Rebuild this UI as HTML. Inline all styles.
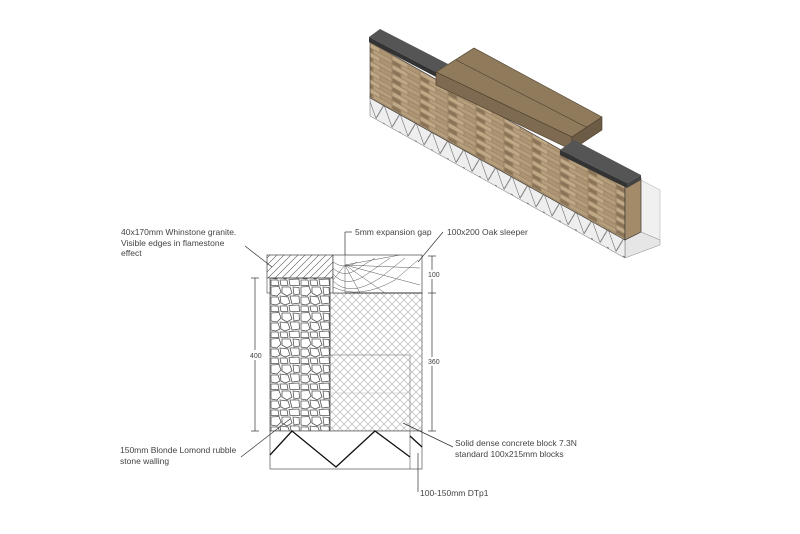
<!DOCTYPE html>
<html><head><meta charset="utf-8"><style>
html,body{margin:0;padding:0;background:#fff;}
svg{display:block;}
text{font-family:"Liberation Sans",sans-serif;font-size:8.5px;fill:#444;}
</style></head><body>
<svg width="800" height="534" viewBox="0 0 800 534" xmlns="http://www.w3.org/2000/svg">
<defs>
<pattern id="xh" width="8" height="8" patternUnits="userSpaceOnUse">
<path d="M0 0L8 8M8 0L0 8" stroke="#aaa" stroke-width="0.6"/>
</pattern>
<pattern id="dh" width="7" height="7" patternUnits="userSpaceOnUse">
<path d="M0 7L7 0M-2 2L2 -2M5 9L9 5" stroke="#555" stroke-width="0.6"/>
</pattern>
<pattern id="rub" width="30" height="26" patternUnits="userSpaceOnUse">
<g fill="#fff" stroke="#555" stroke-width="0.8">
<path d="M1 1L9 0.5L11 6L7 10L1 9Z"/>
<path d="M12 1L20 1L22 7L17 10L12 7Z"/>
<path d="M23 1L29 1.5L29.5 8L24 9Z"/>
<path d="M1 11L8 11L10 17L6 19L1 18Z"/>
<path d="M10 10L18 11L20 17L15 19L11 17Z"/>
<path d="M20 10L29 10L29.5 17L22 18Z"/>
<path d="M1 20L8 20L9 25.5L1 25.5Z"/>
<path d="M10 20L17 20L18 25.5L11 25.5Z"/>
<path d="M19 19.5L29 19L29.5 25.5L20 25.5Z"/>
</g>
</pattern>
<pattern id="wall" width="28" height="9" patternUnits="userSpaceOnUse" patternTransform="skewY(29)">
<rect width="28" height="9" fill="#9d8566"/>
<rect x="0.5" y="0.5" width="15" height="3.6" fill="#c0a986"/>
<rect x="16.5" y="0.5" width="11" height="3.6" fill="#ad9574"/>
<rect x="0.5" y="5" width="8" height="3.4" fill="#8a7458"/>
<rect x="9.5" y="5" width="18" height="3.4" fill="#b59e7c"/>
</pattern>
<pattern id="fnd" width="16" height="18" patternUnits="userSpaceOnUse" patternTransform="skewY(29)">
<rect width="16" height="18" fill="#eee"/>
<path d="M0 0L8 18L16 0" stroke="#555" stroke-width="0.6" fill="none"/>
</pattern>
</defs>

<!-- 3D -->
<polygon points="641,180 660,190 660,240 641,232" fill="#f0f0f0" stroke="#aaa" stroke-width="0.5"/>
<polygon points="625,240 641,232 660,240 660,245 641,252 625,258" fill="#e6e6e6" stroke="#888" stroke-width="0.5"/>
<polygon points="370,96 625,238 625,258 370,116" fill="url(#fnd)" stroke="#666" stroke-width="0.5"/>
<polygon points="370,42 625,186 625,240 370,98" fill="url(#wall)" stroke="#333" stroke-width="0.6"/>
<polygon points="625,186 641,178 641,232 625,240" fill="#a38b6a" stroke="#333" stroke-width="0.6"/>
<polygon points="369,37 380,29 448,64 436,72" fill="#555"/>
<polygon points="369,37 436,72 436,77 369,42" fill="#333"/>
<polygon points="436,72 474,48 602,117 572,137" fill="#8f7a5c" stroke="#4a3d2c" stroke-width="0.6"/>
<line x1="456" y1="60" x2="588" y2="128" stroke="#4a3d2c" stroke-width="0.6"/>
<polygon points="436,72 572,137 572,150 436,85" fill="#7d6a50" stroke="#4a3d2c" stroke-width="0.6"/>
<polygon points="572,137 602,117 602,130 572,150" fill="#6d5c45" stroke="#4a3d2c" stroke-width="0.6"/>
<polygon points="560,150 574,140 641,175 627,183" fill="#555"/>
<polygon points="560,150 627,183 627,188 560,155" fill="#333"/>
<polygon points="627,183 641,175 641,180 627,188" fill="#444"/>

<!-- Section -->
<rect x="270" y="278" width="60" height="153" fill="url(#rub)" stroke="#444" stroke-width="0.7"/>
<rect x="330" y="293" width="92" height="138" fill="url(#xh)" stroke="#555" stroke-width="0.7"/>
<rect x="330" y="355" width="80" height="76" fill="none" stroke="#777" stroke-width="0.6"/>
<line x1="330" y1="393" x2="410" y2="393" stroke="#bbb" stroke-width="0.6"/>
<rect x="267" y="255" width="66" height="23" fill="url(#dh)" stroke="#444" stroke-width="0.7"/>
<rect x="267" y="278" width="3" height="15" fill="#fff" stroke="#444" stroke-width="0.6"/>
<rect x="333" y="255" width="89" height="38" fill="#fff" stroke="#444" stroke-width="0.7"/>
<g fill="none" stroke="#555" stroke-width="0.5">
<path d="M333 262 Q345 270 357 262"/>
<path d="M333 268 Q345 280 362 266 L375 258"/>
<path d="M333 274 Q347 290 370 272 L390 258"/>
<path d="M333 281 Q350 298 380 278 L405 258"/>
<path d="M333 287 Q360 300 395 280 L418 260"/>
<path d="M345 255 L345 293 M345 265 L333 280 M345 265 L360 293 M345 265 L385 293 M345 265 L420 285 M345 265 L420 268 M345 265 L400 255"/>
</g>
<line x1="345" y1="293" x2="422" y2="293" stroke="#333" stroke-width="1"/>
<rect x="270" y="431" width="152" height="38" fill="#fff" stroke="#555" stroke-width="0.7"/>
<line x1="410" y1="431" x2="410" y2="469" stroke="#555" stroke-width="0.6"/>
<polyline points="270,455 292,431 336,467 375,431 410,457" fill="none" stroke="#111" stroke-width="1.3"/>
<polyline points="410,436 422,447" fill="none" stroke="#111" stroke-width="1.3"/>

<!-- dims -->
<g stroke="#333" stroke-width="0.7">
<line x1="255" y1="278" x2="255" y2="431"/><line x1="251" y1="278" x2="259" y2="278"/><line x1="251" y1="431" x2="259" y2="431"/>
<line x1="432" y1="256" x2="432" y2="431"/><line x1="428" y1="256" x2="436" y2="256"/><line x1="428" y1="293" x2="436" y2="293"/><line x1="428" y1="431" x2="436" y2="431"/>
<line x1="345" y1="232" x2="345" y2="255"/><line x1="345" y1="232" x2="352" y2="232"/>
<line x1="443" y1="232" x2="418" y2="262"/>
<line x1="245" y1="246" x2="272" y2="267"/>
<line x1="241" y1="457" x2="290" y2="419"/>
<line x1="453" y1="447" x2="403" y2="423"/>
<line x1="418" y1="492" x2="418" y2="453"/>
</g>
<rect x="250" y="350" width="10" height="10" fill="#fff"/>
<text x="250" y="358" style="font-size:7px">400</text>
<rect x="428" y="270" width="12" height="9" fill="#fff"/>
<text x="428" y="277" style="font-size:7px">100</text>
<rect x="428" y="357" width="12" height="9" fill="#fff"/>
<text x="428" y="364" style="font-size:7px">360</text>

<text x="121" y="235">40x170mm Whinstone granite.</text>
<text x="121" y="246">Visible edges in flamestone</text>
<text x="121" y="256">effect</text>
<text x="355" y="235">5mm expansion gap</text>
<text x="447" y="235">100x200 Oak sleeper</text>
<text x="120" y="453">150mm Blonde Lomond rubble</text>
<text x="120" y="464">stone walling</text>
<text x="455" y="446">Solid dense concrete block 7.3N</text>
<text x="455" y="457">standard 100x215mm blocks</text>
<text x="420" y="496">100-150mm DTp1</text>
</svg>
</body></html>
